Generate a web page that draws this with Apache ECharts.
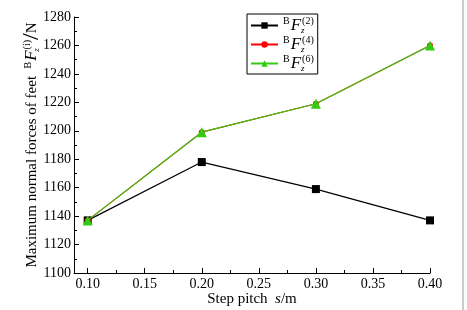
<!DOCTYPE html>
<html>
<head>
<meta charset="utf-8">
<script src="https://cdn.jsdelivr.net/npm/echarts@6/dist/echarts.min.js"></script>
<style>
  html, body { margin: 0; padding: 0; background: #fff; }
  #chart { width: 467px; height: 310px; }
</style>
</head>
<body>
<div id="chart"></div>
<script>
const stepPitch = [0.10, 0.20, 0.30, 0.40]
const forceF2 = [1137, 1178, 1159, 1137]
const forceF4 = [1137, 1199, 1219, 1260]
const forceF6 = [1137, 1199, 1219, 1260]
const xMajorTicks = [0.10, 0.15, 0.20, 0.25, 0.30, 0.35, 0.40]
const xMinorTicks = [0.125, 0.175, 0.225, 0.275, 0.325, 0.375]

const serif = 'Liberation Serif'

// rich styles for the B F_z^(n) label
const rich = {
  b: { fontFamily: serif, fontSize: 10, color: '#000', padding: [0, 1, 8, 0] },
  f: { fontFamily: serif, fontSize: 17, fontStyle: 'italic', color: '#000' },
  z: { fontFamily: serif, fontSize: 9, fontStyle: 'italic', color: '#000', padding: [10, 0, 0, 0], width: 1 },
  n: { fontFamily: serif, fontSize: 10, color: '#000', padding: [0, 0, 9, 0] },
  t: { fontFamily: serif, fontSize: 15, color: '#000' },
  tx: { fontFamily: serif, fontSize: 15, color: '#000' },
  sl: { fontFamily: serif, fontSize: 24, color: '#000' },
  it: { fontFamily: serif, fontSize: 15, fontStyle: 'italic', color: '#000' }
}

function mkSeries(name, data, color, symbol, size, z) {
  return {
    name: name,
    type: 'line',
    data: stepPitch.map((x, i) => [x, data[i]]),
    symbol: symbol,
    symbolSize: size,
    lineStyle: { color: color, width: 1.2 },
    itemStyle: { color: color },
    z: z
  }
}

const chart = echarts.init(document.getElementById('chart'))

const option = {
  animation: false,
  backgroundColor: '#fff',
  grid: { left: 74, right: 37, top: 17, bottom: 37, outerBoundsMode: 'none', containLabel: false },
  graphic: [{
    type: 'rect',
    shape: { x: -20, y: -6, width: 483, height: 330, r: 7 },
    style: { fill: 'none', stroke: '#9a9a9a', lineWidth: 1 },
    silent: true
  }],
  legend: {
    orient: 'vertical',
    left: 247,
    top: 14,
    width: 70,
    padding: [2, 4, 1, 3],
    itemGap: 0,
    itemWidth: 27,
    itemHeight: 8,
    borderColor: '#000',
    borderWidth: 1,
    backgroundColor: '#fff',
    data: ['F2', 'F4', 'F6'],
    formatter: function (name) {
      return '{b|B}{f|F}{z|z}{n|(' + name.slice(1) + ')}'
    },
    textStyle: { rich: rich }
  },
  xAxis: [{
    type: 'value',
    min: 0.088,
    max: 0.40,
    name: '{tx|Step pitch  }{it|s}{tx|/m}',
    nameLocation: 'middle',
    nameGap: 19,
    nameMoveOverlap: false,
    nameTextStyle: { rich: rich },
    axisLine: { show: true, lineStyle: { color: '#000', width: 1 } },
    axisTick: { show: true, inside: true, length: 5, customValues: xMajorTicks, lineStyle: { color: '#000' } },
    axisLabel: {
      customValues: xMajorTicks,
      fontFamily: serif, fontSize: 14, color: '#000', margin: 4,
      formatter: v => v.toFixed(2)
    },
    splitLine: { show: false }
  }, {
    type: 'value',
    position: 'bottom',
    min: 0.088,
    max: 0.40,
    axisLine: { show: false },
    axisTick: { show: true, inside: true, length: 3, customValues: xMinorTicks, lineStyle: { color: '#000' } },
    axisLabel: { show: false },
    splitLine: { show: false }
  }],
  yAxis: {
    type: 'value',
    min: 1100,
    max: 1280,
    interval: 20,
    name: '{t|Maximum normal forces of feet  }{b|B}{f|F}{z|z}{n|(i)}{sl|/}{t|N}',
    nameLocation: 'middle',
    nameRotate: 90,
    nameGap: 30,
    nameMoveOverlap: false,
    nameTextStyle: { rich: rich },
    axisLine: { show: true, lineStyle: { color: '#000', width: 1 } },
    axisTick: { show: true, inside: true, length: 5, lineStyle: { color: '#000' } },
    minorTick: { show: true, splitNumber: 2, length: 3, lineStyle: { color: '#000' } },
    axisLabel: {
      fontFamily: serif, fontSize: 14, color: '#000', margin: 3,
      formatter: v => String(v)
    },
    splitLine: { show: false }
  },
  series: [
    mkSeries('F2', forceF2, '#000000', 'rect', 8, 2),
    mkSeries('F4', forceF4, '#ff0000', 'circle', 6, 3),
    mkSeries('F6', forceF6, '#33cc11', 'triangle', 10, 4)
  ]
}

option && chart.setOption(option)
</script>
</body>
</html>
